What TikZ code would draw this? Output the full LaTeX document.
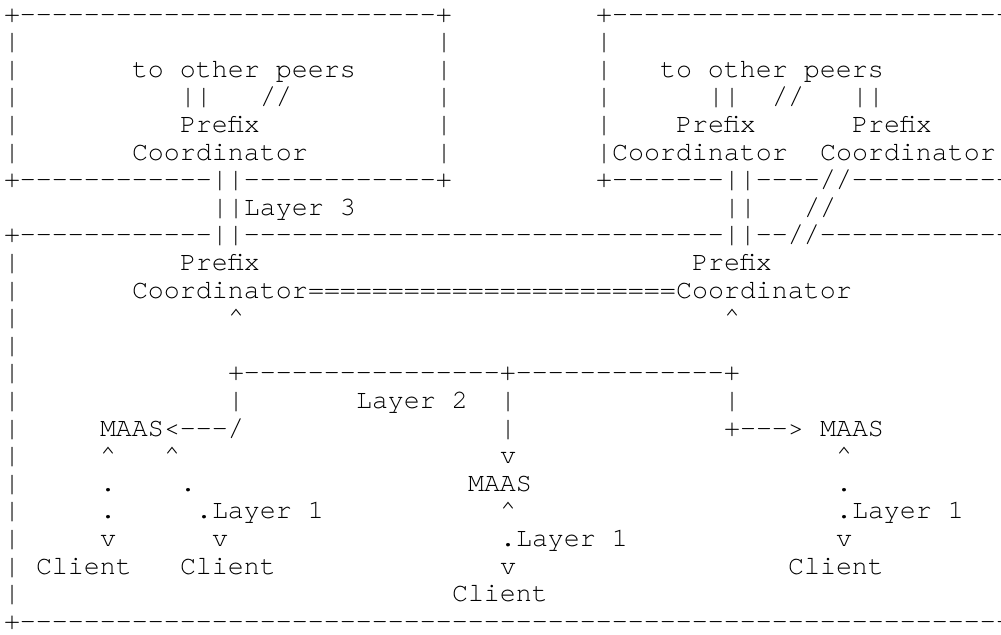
\documentclass[tikz,border=0pt]{standalone}
\usepackage{fontspec}
\setmonofont{TeX Gyre Cursor}
\usetikzlibrary{positioning}
\tikzset{font=\ttfamily\fontsize{13.33pt}{13.8pt}\selectfont}

\begin{document}
\begin{tikzpicture}[x=8pt, y=-13.8pt]
	\useasboundingbox (-0.25,-0.797) rectangle (62.3125,22.174);
	\clip (-0.25,-0.797) rectangle (62.3125,22.174);
	\begin{scope}
		\tikzstyle{every node}=[anchor=base west, inner sep=0pt, outer sep=0pt]
		% layer 3 boxes
		\node (topL) at (0,0) {+--------------------------+};
		\node (topR) at (37,0) {+--------------------------};
		\foreach \r in {1,...,5} {
			\node (bxa\r) at (0,\r) {|};
			\node (bxb\r) at (27,\r) {|};
			\node (bxc\r) at (37,\r) {|};
		}
		\node (peersL) at (8,2) {to other peers};
		\node (peersR) at (41,2) {to other peers};
		\node (upL1) at (11,3) {||};
		\node (upL2) at (16,3) {//};
		\node (upR1) at (44,3) {||};
		\node (upR2) at (48,3) {//};
		\node (upR3) at (53,3) {||};
		\node (pfxA) at (11,4) {Prefix};
		\node (pfxB) at (42,4) {Prefix};
		\node (pfxC) at (53,4) {Prefix};
		\node (crdA) at (8,5) {Coordinator};
		\node (crdB) at (38,5) {Coordinator};
		\node (crdC) at (51,5) {Coordinator};
		\node (botL) at (0,6) {+------------||------------+};
		\node (botR) at (37,6) {+-------||----//------------};
		\node (l3a) at (13,7) {||Layer 3};
		\node (l3b) at (45,7) {||};
		\node (l3c) at (50,7) {//};

		% layer 2 domain
		\node (topD) at (0,8) {+------------||------------------------------||--//--------------};
		\foreach \r in {9,...,21}
			\node (bxd\r) at (0,\r) {|};
		\node (pfxD) at (11,9) {Prefix};
		\node (pfxE) at (43,9) {Prefix};
		\node (crdD) at (8,10) {Coordinator};
		\node (peer) at (19,10) {=======================};
		\node (crdE) at (42,10) {Coordinator};
		\node (hatA) at (14,11) {\textasciicircum};
		\node (hatB) at (45,11) {\textasciicircum};
		\node (bus) at (14,13) {+----------------+-------------+};
		\node (dropA) at (14,14) {|};
		\node (l2) at (22,14) {Layer 2};
		\node (dropB) at (31,14) {|};
		\node (dropC) at (45,14) {|};
		\node (maasA) at (6,15) {MAAS};
		\node (arrA) at (10,15) {<---/};
		\node (dropD) at (31,15) {|};
		\node (arrC) at (45,15) {+--->};
		\node (maasC) at (51,15) {MAAS};

		% layer 1
		\node (upA1) at (6,16) {\textasciicircum};
		\node (upA2) at (10,16) {\textasciicircum};
		\node (dnB1) at (31,16) {v};
		\node (upC) at (52,16) {\textasciicircum};
		\node (dotA1) at (6,17) {.};
		\node (dotA2) at (11,17) {.};
		\node (maasB) at (29,17) {MAAS};
		\node (dotC) at (52,17) {.};
		\node (dotA3) at (6,18) {.};
		\node (l1A) at (12,18) {.Layer 1};
		\node (upB) at (31,18) {\textasciicircum};
		\node (l1C) at (52,18) {.Layer 1};
		\node (dnA1) at (6,19) {v};
		\node (dnA2) at (13,19) {v};
		\node (l1B) at (31,19) {.Layer 1};
		\node (dnC) at (52,19) {v};
		\node (cliA1) at (2,20) {Client};
		\node (cliA2) at (11,20) {Client};
		\node (dnB2) at (31,20) {v};
		\node (cliC) at (49,20) {Client};
		\node (cliB) at (28,21) {Client};
		\node (botD) at (0,22) {+----------------------------------------------------------------};
	\end{scope}
\end{tikzpicture}
\end{document}
